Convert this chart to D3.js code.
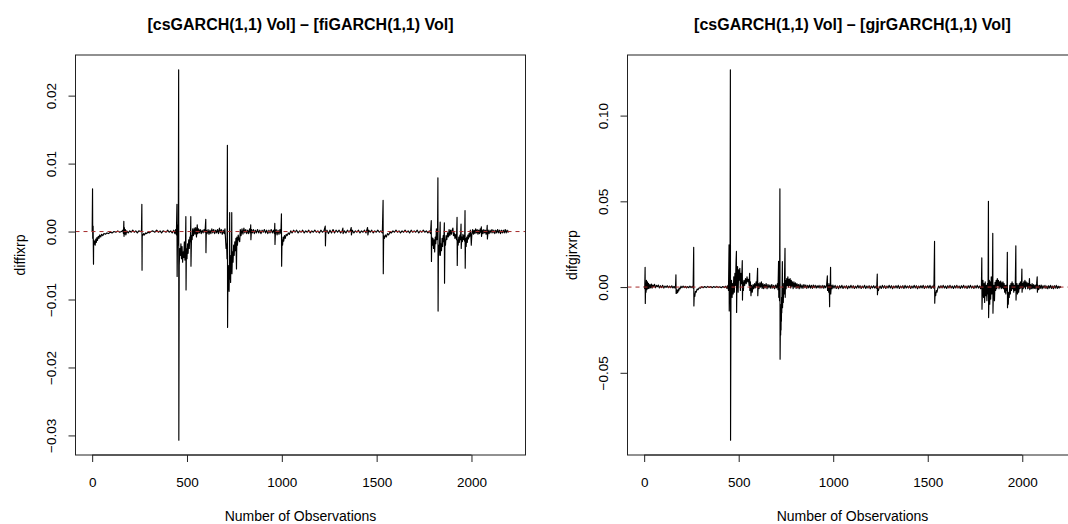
<!DOCTYPE html>
<html>
<head>
<meta charset="utf-8">
<script src="https://cdn.jsdelivr.net/npm/d3@7"></script>
<style>
  body { margin: 0; background: #fff; }
  text { font-family: "Liberation Sans", Arial, Helvetica, sans-serif; fill: #000; }
</style>
</head>
<body>
<svg id="chart" width="1068" height="524"></svg>
<script>
// Difference between csGARCH(1,1) volatility and fiGARCH(1,1) volatility, [observation, value]
const fiDiff = [
  [0, 0.0000], [2, 0.0063], [3, -0.0010], [5, 0.0008], [7, -0.0048], [8, -0.0012], [10, -0.0019], [13, -0.0014],
  [16, -0.0020], [19, -0.0011], [22, -0.0016], [25, -0.0009], [28, -0.0013], [32, -0.0007], [36, -0.0010],
  [40, -0.0005], [45, -0.0008], [50, -0.0004], [56, -0.0006], [62, -0.0003], [70, -0.0004], [78, -0.0002],
  [86, -0.0003], [95, -0.0001], [105, -0.0002], [115, 0.0000], [125, -0.0001], [135, 0.0001], [145, -0.0001],
  [155, 0.0000], [162, 0.0002], [165, -0.0003], [167, 0.0015], [168, -0.0007], [170, 0.0006], [172, -0.0004],
  [175, 0.0003], [178, -0.0005], [182, 0.0001], [190, -0.0002], [198, 0.0001], [206, -0.0001], [214, 0.0002],
  [222, -0.0001], [230, 0.0001], [238, -0.0002], [246, 0.0001], [254, 0.0000], [260, 0.0001], [262, 0.0040],
  [263, -0.0057], [264, -0.0004], [267, -0.0006], [271, -0.0003], [276, -0.0005], [281, -0.0002], [287, -0.0003],
  [294, -0.0001], [302, -0.0002], [310, 0.0000], [320, 0.0001], [330, -0.0001], [340, 0.0002], [350, -0.0001],
  [358, 0.0001], [366, -0.0002], [374, 0.0001], [382, 0.0000], [390, -0.0001], [398, 0.0002], [406, -0.0001],
  [414, 0.0001], [422, -0.0002], [430, 0.0002], [436, -0.0003], [440, 0.0003], [444, -0.0005],
  [447, 0.0040], [448, -0.0066], [450, -0.0008], [452, 0.0010], [454, -0.0020], [456, 0.0238], [457, -0.0307],
  [459, -0.0050], [462, -0.0025], [465, -0.0035], [468, -0.0018], [471, -0.0040], [474, -0.0022], [477, -0.0045],
  [480, -0.0030], [483, -0.0038], [486, -0.0015], [489, -0.0042], [492, -0.0020], [494, 0.0022], [495, -0.0086],
  [497, -0.0025], [500, -0.0040], [503, -0.0018], [506, -0.0032], [509, -0.0012], [512, -0.0025], [515, -0.0008],
  [518, -0.0015], [520, 0.0022], [521, -0.0051], [524, -0.0006], [527, -0.0012], [530, 0.0004], [534, -0.0006],
  [538, 0.0005], [542, -0.0004], [546, 0.0006], [550, -0.0008], [554, 0.0010], [557, -0.0003], [561, 0.0004],
  [565, -0.0002], [570, 0.0003], [575, -0.0003], [580, 0.0002], [585, -0.0002], [590, 0.0003], [595, -0.0001],
  [599, 0.0018], [600, -0.0031], [602, 0.0002], [606, -0.0003], [611, 0.0003], [616, -0.0004], [621, 0.0002],
  [626, -0.0003], [631, 0.0004], [636, -0.0002], [641, 0.0003], [646, -0.0003], [651, 0.0002], [656, -0.0002],
  [661, 0.0003], [666, -0.0003], [671, 0.0005], [676, -0.0002], [681, 0.0003], [686, -0.0004], [691, 0.0002],
  [696, -0.0003], [700, 0.0004], [703, -0.0010], [706, -0.0025], [709, -0.0018], [711, -0.0040],
  [713, 0.0127], [714, -0.0141], [716, -0.0060], [718, -0.0085], [720, -0.0050], [722, -0.0088], [724, -0.0045],
  [725, 0.0028], [726, -0.0070], [728, -0.0040], [730, -0.0075], [732, -0.0035], [734, -0.0055], [736, 0.0028],
  [737, -0.0062], [740, -0.0030], [743, -0.0045], [746, -0.0020], [749, -0.0035], [752, -0.0015], [755, -0.0028],
  [758, -0.0010], [761, -0.0055], [763, -0.0008], [766, -0.0020], [770, -0.0005], [774, -0.0012], [778, -0.0015],
  [781, 0.0003], [785, -0.0006], [790, 0.0004], [795, -0.0004], [800, 0.0005], [805, -0.0002], [810, 0.0003],
  [815, -0.0003], [820, 0.0002], [825, -0.0003], [830, 0.0004], [834, -0.0002], [836, 0.0010], [837, -0.0012],
  [840, 0.0003], [845, -0.0002], [850, 0.0003], [855, -0.0003], [860, 0.0002], [866, -0.0002], [872, 0.0003],
  [878, -0.0002], [884, 0.0002], [890, -0.0003], [896, 0.0002], [902, -0.0001], [908, 0.0003], [914, -0.0002],
  [920, 0.0002], [926, -0.0003], [932, 0.0002], [938, -0.0002], [944, 0.0003], [950, -0.0002], [956, 0.0002],
  [961, -0.0003], [963, 0.0012], [964, -0.0019], [966, -0.0004], [970, 0.0003], [975, -0.0005], [980, 0.0002],
  [985, -0.0004], [990, 0.0003], [995, -0.0003], [998, 0.0026], [999, -0.0051], [1001, -0.0012], [1004, -0.0020],
  [1007, -0.0008], [1010, -0.0014], [1014, -0.0006], [1018, -0.0010], [1023, -0.0004], [1028, -0.0006],
  [1034, -0.0002], [1040, -0.0004], [1047, 0.0001], [1054, -0.0002], [1062, 0.0002], [1070, -0.0001],
  [1078, 0.0002], [1086, -0.0002], [1094, 0.0001], [1102, -0.0001], [1110, 0.0002], [1118, -0.0002],
  [1126, 0.0001], [1134, -0.0001], [1142, 0.0002], [1150, -0.0002], [1158, 0.0001], [1166, -0.0001],
  [1174, 0.0002], [1182, -0.0001], [1190, 0.0001], [1198, -0.0002], [1206, 0.0002], [1214, -0.0001],
  [1222, 0.0001], [1229, 0.0008], [1230, -0.0021], [1232, -0.0002], [1238, 0.0002], [1246, -0.0003],
  [1254, 0.0002], [1262, -0.0002], [1270, 0.0003], [1278, -0.0002], [1286, 0.0002], [1294, -0.0001],
  [1302, 0.0002], [1310, -0.0002], [1318, 0.0001], [1322, 0.0005], [1323, -0.0003], [1330, 0.0001],
  [1338, -0.0002], [1346, 0.0002], [1354, -0.0001], [1362, 0.0002], [1366, 0.0006], [1367, -0.0005],
  [1372, 0.0002], [1380, -0.0002], [1388, 0.0001], [1396, -0.0001], [1404, 0.0002], [1412, -0.0002],
  [1420, 0.0001], [1428, -0.0001], [1436, 0.0002], [1444, -0.0002], [1452, 0.0006], [1454, -0.0005],
  [1458, 0.0002], [1466, -0.0001], [1474, 0.0002], [1482, -0.0002], [1490, 0.0001], [1498, -0.0001],
  [1506, 0.0002], [1514, -0.0001], [1522, 0.0001], [1530, -0.0002], [1534, 0.0046], [1535, -0.0062],
  [1537, -0.0006], [1541, -0.0010], [1546, -0.0005], [1551, -0.0008], [1557, -0.0003], [1563, -0.0005],
  [1570, -0.0001], [1578, -0.0002], [1586, 0.0001], [1594, -0.0001], [1602, 0.0002], [1610, -0.0001],
  [1618, 0.0001], [1626, -0.0002], [1634, 0.0001], [1642, -0.0001], [1650, 0.0002], [1658, -0.0001],
  [1666, 0.0001], [1674, -0.0002], [1682, 0.0002], [1690, -0.0001], [1698, 0.0001], [1706, -0.0001],
  [1714, 0.0002], [1722, -0.0002], [1730, 0.0001], [1738, -0.0001], [1746, 0.0002], [1754, -0.0001],
  [1762, 0.0001], [1770, -0.0002], [1778, 0.0001], [1784, -0.0003], [1788, 0.0016], [1789, -0.0044],
  [1791, -0.0008], [1794, -0.0020], [1797, -0.0010], [1800, -0.0025], [1803, -0.0012], [1806, -0.0030],
  [1809, -0.0008], [1812, -0.0018], [1815, 0.0004], [1818, -0.0012], [1821, -0.0005], [1823, 0.0079],
  [1824, -0.0117], [1826, -0.0020], [1829, -0.0035], [1832, -0.0015], [1835, 0.0014], [1836, -0.0035],
  [1839, -0.0018], [1842, -0.0028], [1845, -0.0010], [1848, -0.0022], [1851, -0.0006], [1854, -0.0015],
  [1857, 0.0013], [1858, -0.0076], [1860, -0.0012], [1863, -0.0020], [1866, -0.0006], [1870, -0.0012],
  [1874, -0.0002], [1878, -0.0008], [1882, 0.0003], [1886, -0.0006], [1890, 0.0002], [1894, -0.0004],
  [1898, 0.0002], [1902, 0.0005], [1905, -0.0006], [1909, -0.0002], [1913, -0.0010], [1917, -0.0004],
  [1921, -0.0012], [1924, 0.0021], [1925, -0.0050], [1927, -0.0012], [1930, -0.0020], [1933, -0.0008],
  [1936, -0.0016], [1939, -0.0005], [1942, -0.0012], [1945, 0.0011], [1946, -0.0025], [1949, -0.0008],
  [1952, -0.0015], [1955, -0.0004], [1958, -0.0012], [1961, -0.0006], [1964, -0.0014], [1966, 0.0031],
  [1967, -0.0054], [1969, -0.0010], [1972, -0.0022], [1975, -0.0008], [1978, -0.0016], [1981, -0.0005],
  [1984, -0.0011], [1987, -0.0003], [1990, -0.0008], [1994, 0.0002], [1997, -0.0006], [1999, -0.0020],
  [2002, -0.0004], [2006, 0.0003], [2010, -0.0004], [2014, 0.0002], [2018, -0.0003], [2022, 0.0004],
  [2026, -0.0002], [2030, 0.0003], [2034, -0.0004], [2038, 0.0002], [2042, -0.0003], [2046, 0.0004],
  [2050, -0.0002], [2052, 0.0007], [2053, -0.0007], [2057, 0.0002], [2061, -0.0003], [2065, 0.0003],
  [2069, -0.0002], [2073, 0.0002], [2077, -0.0004], [2081, 0.0002], [2083, 0.0009], [2084, -0.0011],
  [2088, 0.0002], [2093, -0.0003], [2098, 0.0002], [2103, -0.0002], [2108, 0.0003], [2113, -0.0002],
  [2118, 0.0002], [2123, -0.0003], [2128, 0.0002], [2133, -0.0002], [2138, 0.0003], [2143, -0.0002],
  [2148, 0.0002], [2153, -0.0003], [2158, 0.0002], [2163, -0.0002], [2168, 0.0002], [2173, -0.0002],
  [2178, 0.0003], [2183, -0.0002], [2188, 0.0002], [2193, -0.0001], [2197, 0.0001]
];

// Difference between csGARCH(1,1) volatility and gjrGARCH(1,1) volatility, [observation, value]
const gjrDiff = [
  [0, 0.0005], [3, -0.0010], [5, 0.0115], [6, -0.0096], [8, 0.0020], [10, -0.0030], [12, 0.0040], [14, -0.0015],
  [17, 0.0030], [20, -0.0010], [23, 0.0022], [26, -0.0008], [30, 0.0015], [34, -0.0005], [38, 0.0018],
  [42, -0.0006], [46, 0.0012], [50, 0.0003], [55, 0.0016], [60, -0.0004], [65, 0.0010], [70, 0.0002],
  [75, 0.0012], [80, -0.0005], [86, 0.0008], [92, -0.0003], [98, 0.0010], [104, -0.0006], [110, 0.0006],
  [116, -0.0002], [122, 0.0008], [128, -0.0004], [134, 0.0005], [140, -0.0003], [146, 0.0007], [152, -0.0005],
  [158, 0.0004], [163, -0.0006], [166, 0.0005], [168, 0.0072], [169, -0.0037], [171, -0.0015], [173, -0.0035],
  [175, -0.0020], [177, -0.0032], [180, -0.0012], [183, -0.0022], [186, -0.0006], [190, -0.0010], [195, 0.0005],
  [200, -0.0004], [206, 0.0006], [212, -0.0003], [218, 0.0004], [224, -0.0005], [230, 0.0003], [236, -0.0004],
  [242, 0.0005], [248, -0.0003], [254, 0.0004], [259, -0.0006], [262, 0.0232], [263, -0.0110], [265, -0.0040],
  [268, -0.0055], [271, -0.0025], [275, -0.0030], [280, -0.0012], [285, -0.0015], [291, -0.0004], [298, -0.0006],
  [305, 0.0002], [312, -0.0004], [320, 0.0003], [328, -0.0003], [336, 0.0004], [344, -0.0002], [352, 0.0003],
  [360, -0.0004], [368, 0.0003], [376, -0.0002], [384, 0.0004], [392, -0.0003], [400, 0.0002], [408, -0.0004],
  [416, 0.0003], [424, -0.0003], [432, 0.0005], [438, -0.0008], [443, 0.0010], [446, -0.0020], [449, 0.0247],
  [450, -0.0139], [452, 0.0030], [454, -0.0050], [456, 0.1267], [457, -0.0893], [459, -0.0080], [462, 0.0040],
  [465, -0.0060], [468, 0.0020], [471, -0.0040], [474, 0.0060], [477, -0.0030], [480, 0.0080], [483, 0.0010],
  [486, 0.0150], [488, 0.0208], [489, -0.0148], [491, 0.0060], [494, 0.0120], [497, -0.0030], [500, 0.0100],
  [503, 0.0040], [506, 0.0110], [509, -0.0020], [512, 0.0080], [515, 0.0020], [519, 0.0154], [520, -0.0076],
  [522, 0.0030], [525, -0.0020], [528, 0.0040], [532, 0.0010], [536, 0.0050], [540, 0.0020], [544, 0.0060],
  [548, 0.0030], [552, 0.0045], [555, 0.0010], [558, 0.0080], [559, -0.0020], [562, 0.0030], [565, -0.0050],
  [568, 0.0010], [572, -0.0030], [576, 0.0015], [580, -0.0010], [584, 0.0020], [588, -0.0005], [592, 0.0030],
  [596, 0.0005], [600, 0.0110], [601, -0.0050], [604, 0.0020], [608, -0.0010], [612, 0.0025], [616, 0.0000],
  [620, 0.0030], [624, -0.0008], [628, 0.0020], [632, -0.0010], [636, 0.0015], [640, -0.0005], [645, 0.0020],
  [650, -0.0010], [655, 0.0015], [660, -0.0005], [665, 0.0012], [670, -0.0008], [675, 0.0015], [680, -0.0006],
  [685, 0.0010], [690, -0.0010], [695, 0.0012], [700, -0.0005], [705, 0.0020], [708, -0.0015], [711, 0.0150],
  [712, -0.0060], [714, 0.0030], [716, -0.0080], [718, 0.0573], [719, -0.0421], [720, -0.0300], [721, -0.0150],
  [722, -0.0280], [723, -0.0120], [724, -0.0250], [725, -0.0100], [726, -0.0200], [727, -0.0060], [728, -0.0150],
  [729, -0.0040], [731, 0.0148], [732, -0.0120], [734, -0.0030], [736, -0.0090], [738, 0.0020], [741, -0.0040],
  [745, 0.0226], [746, -0.0060], [748, 0.0040], [751, -0.0010], [754, 0.0050],
  [757, 0.0010], [760, 0.0060], [763, 0.0000], [766, 0.0045], [769, 0.0010], [772, 0.0050], [775, -0.0005],
  [778, 0.0040], [781, 0.0005], [784, 0.0030], [788, -0.0010], [792, 0.0030], [796, 0.0000], [800, 0.0025],
  [804, -0.0008], [808, 0.0020], [812, -0.0005], [816, 0.0015], [820, -0.0010], [825, 0.0018], [830, -0.0006],
  [835, 0.0012], [840, -0.0008], [845, 0.0015], [850, -0.0004], [855, 0.0012], [860, -0.0008], [865, 0.0010],
  [870, -0.0005], [875, 0.0012], [880, -0.0006], [885, 0.0010], [890, -0.0008], [895, 0.0012], [900, -0.0004],
  [905, 0.0010], [910, -0.0006], [915, 0.0008], [920, -0.0004], [925, 0.0010], [930, -0.0006], [935, 0.0008],
  [940, -0.0005], [945, 0.0010], [950, -0.0007], [955, 0.0008], [960, -0.0004], [965, 0.0010], [969, 0.0066],
  [970, -0.0020], [973, 0.0020], [976, -0.0030], [979, 0.0010], [981, -0.0115], [982, 0.0020], [984, -0.0010],
  [986, 0.0115], [987, -0.0040], [990, 0.0010], [994, -0.0010], [998, 0.0012], [1004, -0.0006], [1010, 0.0010],
  [1016, -0.0008], [1022, 0.0006], [1028, -0.0010], [1034, 0.0008], [1040, -0.0005], [1046, 0.0010],
  [1052, -0.0008], [1058, 0.0006], [1064, -0.0006], [1070, 0.0008], [1076, -0.0010], [1082, 0.0006],
  [1088, -0.0005], [1094, 0.0010], [1100, -0.0006], [1106, 0.0008], [1112, -0.0008], [1118, 0.0005],
  [1124, -0.0006], [1130, 0.0010], [1136, -0.0005], [1142, 0.0008], [1148, -0.0008], [1154, 0.0006],
  [1160, -0.0005], [1166, 0.0010], [1172, -0.0008], [1178, 0.0006], [1184, -0.0006], [1190, 0.0008],
  [1196, -0.0010], [1202, 0.0006], [1208, -0.0005], [1214, 0.0008], [1220, -0.0006], [1226, 0.0005],
  [1230, -0.0008], [1233, 0.0076], [1234, -0.0045], [1236, -0.0010], [1239, -0.0020], [1243, -0.0005],
  [1248, 0.0006], [1254, -0.0008], [1260, 0.0010], [1266, -0.0006], [1272, 0.0008], [1278, -0.0008],
  [1284, 0.0006], [1290, -0.0005], [1296, 0.0010], [1302, -0.0006], [1308, 0.0008], [1314, -0.0010],
  [1320, 0.0006], [1326, -0.0005], [1332, 0.0008], [1338, -0.0006], [1344, 0.0010], [1350, -0.0008],
  [1356, 0.0006], [1362, -0.0005], [1368, 0.0008], [1374, -0.0008], [1380, 0.0010], [1386, -0.0006],
  [1392, 0.0006], [1398, -0.0005], [1404, 0.0008], [1410, -0.0008], [1416, 0.0006], [1422, -0.0006],
  [1428, 0.0010], [1434, -0.0005], [1440, 0.0008], [1446, -0.0010], [1452, 0.0006], [1458, -0.0006],
  [1464, 0.0008], [1470, -0.0005], [1476, 0.0010], [1482, -0.0008], [1488, 0.0006], [1494, -0.0005],
  [1500, 0.0008], [1506, -0.0006], [1512, 0.0010], [1518, -0.0008], [1524, 0.0006], [1530, -0.0006],
  [1533, 0.0020], [1536, 0.0267], [1537, -0.0094], [1539, -0.0030], [1542, -0.0050], [1545, -0.0020],
  [1549, -0.0030], [1553, -0.0008], [1558, 0.0006], [1564, -0.0006], [1570, 0.0008], [1576, -0.0005],
  [1582, 0.0010], [1588, -0.0006], [1594, 0.0006], [1600, -0.0008], [1606, 0.0008], [1612, -0.0005],
  [1618, 0.0010], [1624, -0.0006], [1630, 0.0006], [1636, -0.0008], [1642, 0.0008], [1648, -0.0005],
  [1654, 0.0010], [1660, -0.0006], [1666, 0.0006], [1672, -0.0008], [1678, 0.0008], [1684, -0.0005],
  [1690, 0.0010], [1696, -0.0006], [1702, 0.0006], [1708, -0.0008], [1714, 0.0008], [1720, -0.0005],
  [1726, 0.0010], [1732, -0.0006], [1738, 0.0006], [1744, -0.0008], [1750, 0.0008], [1756, -0.0005],
  [1762, 0.0010], [1768, -0.0006], [1774, 0.0006], [1780, -0.0010], [1784, 0.0010], [1786, 0.0170],
  [1787, -0.0129], [1789, -0.0030], [1792, 0.0040], [1795, -0.0060], [1798, 0.0020], [1801, -0.0090],
  [1804, 0.0030], [1807, -0.0050], [1810, 0.0010], [1813, -0.0080], [1816, 0.0020], [1819, -0.0040],
  [1821, 0.0500], [1822, -0.0178], [1824, -0.0060], [1826, 0.0040], [1828, -0.0100], [1830, 0.0030],
  [1833, -0.0070], [1836, 0.0060], [1839, -0.0040], [1842, 0.0020], [1844, 0.0314], [1845, -0.0152],
  [1847, -0.0050], [1850, 0.0010], [1853, -0.0080], [1856, 0.0028], [1859, -0.0020], [1862, 0.0040],
  [1865, -0.0010], [1868, 0.0050], [1871, 0.0010], [1874, 0.0040], [1877, -0.0010], [1880, 0.0030],
  [1883, 0.0000], [1886, 0.0035], [1889, -0.0010], [1892, 0.0025], [1895, -0.0005], [1898, 0.0030],
  [1901, -0.0010], [1904, 0.0020], [1907, -0.0030], [1910, 0.0010], [1913, -0.0040], [1916, 0.0010],
  [1919, -0.0020], [1921, 0.0203], [1922, -0.0120], [1924, -0.0050], [1926, -0.0100], [1928, -0.0030],
  [1931, -0.0060], [1934, 0.0010], [1937, -0.0040], [1940, 0.0020], [1943, -0.0020], [1946, 0.0030],
  [1949, -0.0010], [1952, 0.0020], [1955, -0.0030], [1958, 0.0010], [1961, -0.0020], [1963, 0.0010],
  [1966, 0.0241], [1967, -0.0076], [1969, -0.0020], [1972, 0.0020], [1975, -0.0040], [1978, 0.0010],
  [1981, -0.0030], [1984, 0.0020], [1987, -0.0010], [1990, 0.0030], [1993, -0.0005], [1996, 0.0020],
  [1998, 0.0105], [1999, -0.0030], [2002, 0.0020], [2005, -0.0010], [2008, 0.0030], [2011, 0.0000],
  [2014, 0.0040], [2017, -0.0010], [2020, 0.0030], [2023, 0.0005], [2026, 0.0025], [2029, -0.0010],
  [2032, 0.0020], [2035, -0.0005], [2038, 0.0050], [2040, -0.0015], [2044, 0.0015], [2048, -0.0010],
  [2052, 0.0020], [2056, -0.0010], [2060, 0.0015], [2064, -0.0008], [2068, 0.0012], [2072, -0.0010],
  [2076, 0.0020], [2079, 0.0060], [2080, -0.0030], [2083, 0.0010], [2087, -0.0015], [2091, 0.0010],
  [2095, -0.0008], [2100, 0.0012], [2105, -0.0010], [2110, 0.0008], [2115, -0.0006], [2120, 0.0010],
  [2125, -0.0008], [2130, 0.0006], [2135, -0.0010], [2140, 0.0008], [2145, -0.0006], [2150, 0.0010],
  [2155, -0.0008], [2160, 0.0006], [2165, -0.0010], [2170, 0.0008], [2175, -0.0006], [2180, 0.0010],
  [2185, -0.0008], [2190, 0.0005], [2195, -0.0006], [2200, 0.0004], [2204, -0.0004]
];

const obsTicks = [0, 500, 1000, 1500, 2000];
const fiTicks = [-0.03, -0.02, -0.01, 0.00, 0.01, 0.02];
const gjrTicks = [-0.05, 0.00, 0.05, 0.10];
const panelTitles = ["[csGARCH(1,1) Vol] \u2013 [fiGARCH(1,1) Vol]", "[csGARCH(1,1) Vol] \u2013 [gjrGARCH(1,1) Vol]"];
const yLabels = ["diffixrp", "difgjrxrp"];
const xLabel = "Number of Observations";

const svg = d3.select("#chart");
svg.append("rect").attr("width", 1068).attr("height", 524).attr("fill", "#fff");

const TOP = 55, BOTTOM = 455, WIDTH = 450;

// pad an extent by 4% on each side, like R's default axis range
function padded(ext) {
  const d = (ext[1] - ext[0]) * 0.04;
  return [ext[0] - d, ext[1] + d];
}

function drawPanel(series, left, title, yLab, yTicks) {
  const g = svg.append("g");
  const x = d3.scaleLinear().domain(padded(d3.extent(series, d => d[0]))).range([left, left + WIDTH]);
  const y = d3.scaleLinear().domain(padded(d3.extent(series, d => d[1]))).range([BOTTOM, TOP]);

  // series line
  g.append("path")
    .datum(series)
    .attr("fill", "none")
    .attr("stroke", "#000")
    .attr("stroke-width", 1.15)
    .attr("stroke-linejoin", "round")
    .attr("d", d3.line().x(d => x(d[0])).y(d => y(d[1])));

  // zero reference line
  g.append("line")
    .attr("x1", left).attr("x2", left + WIDTH)
    .attr("y1", y(0)).attr("y2", y(0))
    .attr("stroke", "#a52a2a").attr("stroke-width", 1)
    .attr("stroke-dasharray", "4,4");

  // plot box
  g.append("rect")
    .attr("x", left).attr("y", TOP)
    .attr("width", WIDTH).attr("height", BOTTOM - TOP)
    .attr("fill", "none").attr("stroke", "#222").attr("stroke-width", 1);

  // x axis
  const xa = g.append("g").attr("transform", `translate(0,${BOTTOM})`)
    .call(d3.axisBottom(x).tickValues(obsTicks).tickSize(7).tickPadding(15).tickFormat(d3.format("d")));
  xa.select(".domain").remove();
  xa.append("line").attr("x1", x(obsTicks[0])).attr("x2", x(obsTicks[obsTicks.length - 1]))
    .attr("stroke", "#222");
  xa.selectAll(".tick line").attr("stroke", "#222");
  xa.selectAll(".tick text").attr("font-size", "13.5px").attr("font-family", null).attr("fill", "#000");

  // y axis with rotated tick labels
  const ya = g.append("g").attr("transform", `translate(${left},0)`)
    .call(d3.axisLeft(y).tickValues(yTicks).tickSize(7).tickFormat(d3.format(".2f")));
  ya.select(".domain").remove();
  ya.append("line").attr("y1", y(yTicks[0])).attr("y2", y(yTicks[yTicks.length - 1])).attr("stroke", "#222");
  ya.selectAll(".tick line").attr("stroke", "#222");
  ya.selectAll(".tick text")
    .attr("x", null).attr("dy", "0.35em")
    .attr("transform", "translate(-24.5,0) rotate(-90)")
    .attr("text-anchor", "middle")
    .attr("font-size", "13.5px").attr("font-family", null).attr("fill", "#000");

  // titles and axis labels
  const cx = left + WIDTH / 2;
  g.append("text").attr("x", cx).attr("y", 30)
    .attr("text-anchor", "middle").attr("font-weight", "bold").attr("font-size", "16px")
    .text(title);
  g.append("text").attr("x", cx).attr("y", 520.5)
    .attr("text-anchor", "middle").attr("font-size", "14px")
    .text(xLabel);
  const ly = (TOP + BOTTOM) / 2;
  g.append("text")
    .attr("transform", `translate(${left - 55},${ly}) rotate(-90)`)
    .attr("dy", "0.35em")
    .attr("text-anchor", "middle").attr("font-size", "14px")
    .text(yLab);
}

drawPanel(fiDiff, 75.5, panelTitles[0], yLabels[0], fiTicks);
drawPanel(gjrDiff, 627.5, panelTitles[1], yLabels[1], gjrTicks);
</script>
</body>
</html>
